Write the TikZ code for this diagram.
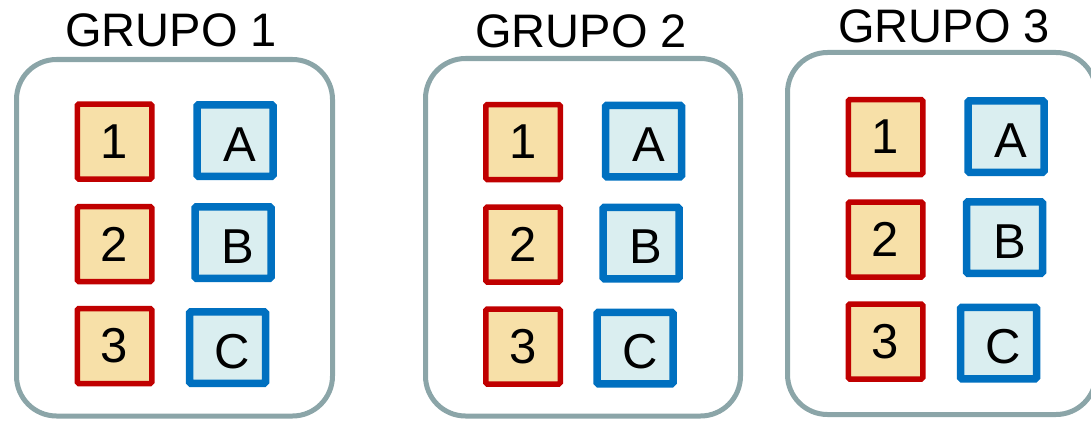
\documentclass[tikz,border=0pt]{standalone}
\usepackage{fontspec}
\setmainfont{Liberation Sans}
\definecolor{redline}{HTML}{C00000}
\definecolor{redfill}{HTML}{F7E0A8}
\definecolor{blueline}{HTML}{0070C0}
\definecolor{bluefill}{HTML}{DAEEF0}
\definecolor{grayline}{HTML}{8BA5A8}
\tikzset{
  lbl/.style={font=\fontsize{49}{49}\selectfont, inner sep=0pt},
  grp/.style={draw=grayline, line width=5pt, rounded corners=40pt, rectangle, inner sep=0pt},
  redbox/.style={draw=redline, fill=redfill, line width=5.5pt, rounded corners=1.5pt, rectangle,
    minimum width=74.5pt, minimum height=75pt, inner sep=0pt, font=\fontsize{49}{49}\selectfont},
  bluebox/.style={draw=blueline, fill=bluefill, line width=7.5pt, rounded corners=1.5pt, rectangle,
    minimum width=76pt, minimum height=71.5pt, inner sep=0pt,
    label={[lbl,xshift=5pt,yshift=-4pt]center:#1}},
  ttl/.style={font=\fontsize{47}{47}\selectfont, anchor=base, inner sep=0pt},
}
\begin{document}
\begin{tikzpicture}[x=1pt,y=-1pt]
\useasboundingbox (0,0) rectangle (1091,420);
% groups
\node[grp, minimum width=316pt, minimum height=356.5pt] (g1) at (174.5,237.75) {};
\node[grp, minimum width=315pt, minimum height=357.5pt] (g2) at (583,237.25) {};
\node[grp, minimum width=308.5pt, minimum height=362pt] (g3) at (941.75,233.5) {};
% titles
\node[ttl] (t1) at (171,47) {GRUPO 1};
\node[ttl] (t2) at (581,48) {GRUPO 2};
\node[ttl] (t3) at (944,43) {GRUPO 3};
% group 1
\node[redbox] (r11) at (114.5,141.5) {1};
\node[redbox] (r12) at (114.5,244) {2};
\node[redbox] (r13) at (114.5,346) {3};
\node[bluebox=A] (b11) at (235,140.5) {};
\node[bluebox=B] (b12) at (233,242.5) {};
\node[bluebox=C] (b13) at (227.5,347.5) {};
% group 2
\node[redbox] (r21) at (523,142) {1};
\node[redbox] (r22) at (523,244.5) {2};
\node[redbox] (r23) at (523,346.5) {3};
\node[bluebox=A] (b21) at (643.5,141) {};
\node[bluebox=B] (b22) at (641,243) {};
\node[bluebox=C] (b23) at (635,348) {};
% group 3
\node[redbox] (r31) at (885.5,137) {1};
\node[redbox] (r32) at (885.5,239.5) {2};
\node[redbox] (r33) at (885.5,341.5) {3};
\node[bluebox=A] (b31) at (1006,136.5) {};
\node[bluebox=B] (b32) at (1004.5,237.5) {};
\node[bluebox=C] (b33) at (998.5,343) {};
\end{tikzpicture}
\end{document}
